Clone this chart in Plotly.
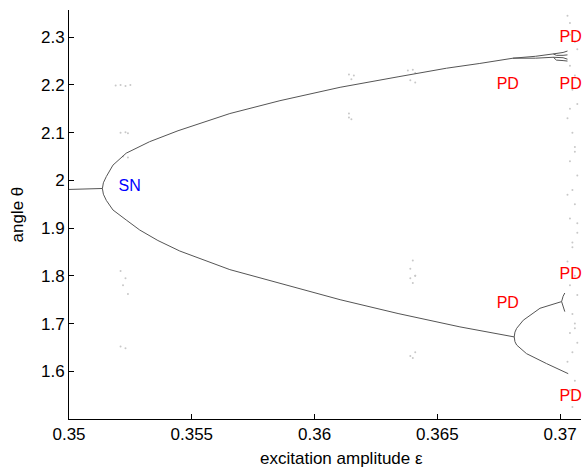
import plotly.graph_objects as go

# ---- data ----
eps_pre = [0.3500, 0.3507, 0.35136]
theta_pre = [1.981, 1.982, 1.983]

eps_up = [0.35136, 0.35140, 0.35152, 0.35179, 0.35233, 0.35328, 0.35444, 0.35655,
          0.35859, 0.36104, 0.36340, 0.36537, 0.36673, 0.36808]
theta_up = [1.983, 1.995, 2.008, 2.032, 2.057, 2.081, 2.104, 2.140,
            2.167, 2.195, 2.217, 2.235, 2.245, 2.256]

eps_up2a = [0.36808, 0.3690, 0.36972, 0.37012, 0.37030]
theta_up2a = [2.256, 2.260, 2.265, 2.268, 2.271]
eps_up2b = [0.36808, 0.3690, 0.36972, 0.37012, 0.37030]
theta_up2b = [2.256, 2.256, 2.258, 2.257, 2.254]
eps_up4a = [0.36972, 0.36985, 0.37012, 0.37030]
theta_up4a = [2.265, 2.262, 2.262, 2.263]
eps_up4b = [0.36972, 0.36985, 0.37012, 0.37030]
theta_up4b = [2.258, 2.252, 2.251, 2.250]

eps_lo = [0.35136, 0.35140, 0.35152, 0.35179, 0.35233, 0.35288, 0.35362, 0.35451, 0.35655,
          0.35859, 0.36104, 0.36340, 0.36592, 0.36813]
theta_lo = [1.983, 1.971, 1.958, 1.938, 1.917, 1.896, 1.874, 1.852, 1.813,
            1.784, 1.750, 1.721, 1.693, 1.672]

eps_p2u = [0.36813, 0.36816, 0.36823, 0.36850, 0.36918, 0.37006]
theta_p2u = [1.672, 1.682, 1.690, 1.707, 1.732, 1.746]
eps_p2l = [0.36813, 0.36816, 0.36823, 0.36863, 0.36945, 0.37033]
theta_p2l = [1.672, 1.662, 1.655, 1.637, 1.616, 1.595]
eps_p4u = [0.37006, 0.37012, 0.37019]
theta_p4u = [1.746, 1.757, 1.764]
eps_p4l = [0.37006, 0.37012, 0.37019]
theta_p4l = [1.746, 1.734, 1.725]

eps_noise = [0.3519, 0.3521, 0.3523, 0.3525, 0.3521, 0.3523, 0.3524, 0.3522, 0.3524,
             0.3521, 0.3523, 0.3522, 0.3524, 0.3521, 0.3523,
             0.3614, 0.3615, 0.3614, 0.3615, 0.3614, 0.3616,
             0.3638, 0.3640, 0.3641, 0.3639, 0.3641, 0.3640, 0.3639, 0.3641,
             0.3639, 0.3640, 0.3641, 0.3639, 0.3640, 0.3641,
             0.3703, 0.3704, 0.3705, 0.3706, 0.3707, 0.3704, 0.3706, 0.3705,
             0.3707, 0.3703, 0.3705, 0.3706, 0.3704, 0.3707, 0.3705, 0.3706,
             0.3704, 0.3707, 0.3705, 0.3703, 0.3706, 0.3704, 0.3707, 0.3705,
             0.3706, 0.3704, 0.3707, 0.3705, 0.3703, 0.3706, 0.3704, 0.3707,
             0.3705, 0.3706, 0.3704, 0.3707, 0.3705, 0.3706, 0.3704, 0.3703]
theta_noise = [2.199, 2.200, 2.198, 2.200, 2.100, 2.101, 2.099, 2.050, 2.048,
               1.810, 1.795, 1.780, 1.762, 1.652, 1.648,
               2.222, 2.212, 2.140, 2.128, 2.132, 2.220,
               2.230, 2.232, 2.225, 2.210, 2.205, 1.832, 1.815, 1.800,
               1.795, 1.785, 1.640, 1.632, 1.628, 1.800,
               2.345, 2.330, 2.310, 2.290, 2.275, 2.240, 2.220, 2.190,
               2.160, 2.130, 2.100, 2.070, 2.040, 2.010, 1.980, 1.950,
               1.920, 1.890, 1.860, 1.830, 1.800, 1.780, 1.760, 1.720,
               1.700, 1.680, 1.660, 1.640, 1.620, 1.580, 1.560, 1.540,
               1.525, 2.060, 2.150, 1.910, 1.870, 1.690, 2.305, 1.970]

pd_eps = [0.36787, 0.37043, 0.37043, 0.36787, 0.37043, 0.37043]
pd_theta = [2.200, 2.298, 2.200, 1.741, 1.802, 1.546]
pd_text = ["PD", "PD", "PD", "PD", "PD", "PD"]
sn_eps = [0.35247]
sn_theta = [1.986]
sn_text = ["SN"]

FONT = "Liberation Sans, Arial, Helvetica, sans-serif"

fig = go.Figure()

fig.add_trace(go.Scatter(x=eps_noise, y=theta_noise, mode="markers",
                         marker=dict(color="#c8c8c8", size=2), hoverinfo="skip"))

branch = dict(color="#555555", width=1)
for xs, ys in [(eps_pre, theta_pre), (eps_up, theta_up), (eps_up2a, theta_up2a),
               (eps_up2b, theta_up2b), (eps_up4a, theta_up4a), (eps_up4b, theta_up4b),
               (eps_lo, theta_lo), (eps_p2u, theta_p2u), (eps_p2l, theta_p2l),
               (eps_p4u, theta_p4u), (eps_p4l, theta_p4l)]:
    fig.add_trace(go.Scatter(x=xs, y=ys, mode="lines", line=branch, hoverinfo="skip"))

fig.add_trace(go.Scatter(x=pd_eps, y=pd_theta, mode="text", text=pd_text, cliponaxis=False,
                         textfont=dict(color="#ff0000", size=16, family=FONT)))
fig.add_trace(go.Scatter(x=sn_eps, y=sn_theta, mode="text", text=sn_text, cliponaxis=False,
                         textfont=dict(color="#0000ff", size=16, family=FONT)))

axis_common = dict(showgrid=False, zeroline=False, showline=True, linecolor="black",
                   linewidth=1, ticks="inside", ticklen=5, tickcolor="black",
                   mirror=False, automargin=False,
                   tickfont=dict(size=17, color="black", family=FONT))

fig.update_layout(
    width=582, height=467,
    margin=dict(l=69, r=1, t=10, b=48),
    paper_bgcolor="white", plot_bgcolor="white",
    showlegend=False,
    font=dict(family=FONT, size=17, color="black"),
    xaxis=dict(axis_common, range=[0.35, 0.37085],
               tickvals=[0.35, 0.355, 0.36, 0.365, 0.37],
               ticktext=["0.35", "0.355", "0.36", "0.365", "0.37"]),
    yaxis=dict(axis_common, range=[1.5, 2.357],
               tickvals=[1.6, 1.7, 1.8, 1.9, 2.0, 2.1, 2.2, 2.3],
               ticktext=["1.6", "1.7", "1.8", "1.9", "2", "2.1", "2.2", "2.3"]),
    annotations=[
        dict(text="excitation amplitude ε", xref="paper", yref="paper",
             x=(341 - 69) / 512, y=-(458 - 419) / 409, showarrow=False,
             xanchor="center", yanchor="middle", font=dict(size=17, family=FONT)),
        dict(text="angle θ", xref="paper", yref="paper",
             x=-(69 - 17) / 512, y=0.5, showarrow=False, textangle=-90,
             xanchor="center", yanchor="middle", font=dict(size=17, family=FONT)),
    ],
)

fig.write_html("out.html", config={"displayModeBar": False},
               post_script="document.body.style.margin='0';document.body.style.overflow='hidden';")
